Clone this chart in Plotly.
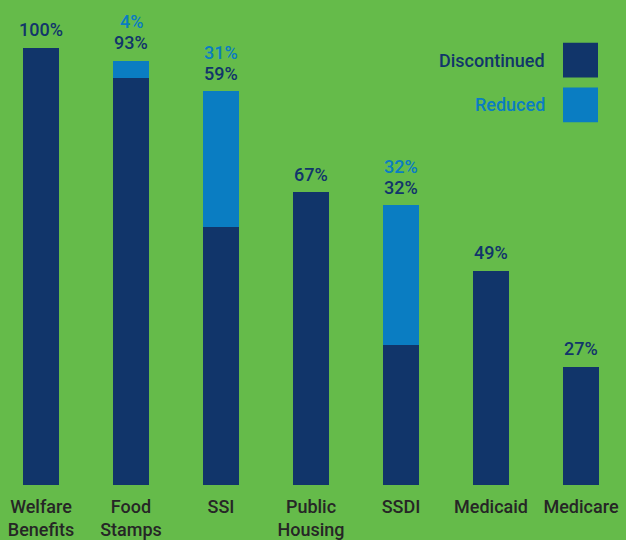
import plotly.graph_objects as go

categories = ["Welfare<br>Benefits", "Food<br>Stamps", "SSI", "Public<br>Housing", "SSDI", "Medicaid", "Medicare"]
discontinued = [100, 93, 59, 67, 32, 49, 27]
reduced = [0, 4, 31, 0, 32, 0, 0]
series_names = ["Discontinued", "Reduced"]

BG = "#65bb4a"
NAVY = "#11356a"
BLUE = "#0a7dc2"
FONT = "Roboto"
FS = 18
W = 500

x = list(range(len(categories)))

fig = go.Figure()
fig.add_bar(x=x, y=discontinued, marker_color=NAVY, marker_line_width=0, width=0.39,
            name=series_names[0], showlegend=False)
fig.add_bar(x=x, y=reduced, marker_color=BLUE, marker_line_width=0, width=0.39,
            name=series_names[1], showlegend=False)

ann = []
for i in x:
    tot = discontinued[i] + reduced[i]
    ann.append(dict(x=i, y=tot, xref="x", yref="y", text=f"{discontinued[i]}%", showarrow=False,
                    yanchor="middle", yshift=18, font=dict(family=FONT, size=FS, color=NAVY, weight=W)))
    if reduced[i] > 0:
        ann.append(dict(x=i, y=tot, xref="x", yref="y", text=f"{reduced[i]}%", showarrow=False,
                        yanchor="middle", yshift=39, font=dict(family=FONT, size=FS, color=BLUE, weight=W)))

legend_colors = [NAVY, BLUE]

fig.update_layout(
    width=626, height=540,
    margin=dict(l=0, r=0, t=0, b=52),
    paper_bgcolor=BG, plot_bgcolor=BG,
    barmode="stack",
    bargap=0,
    xaxis=dict(range=[-41 / 90, -41 / 90 + 626 / 90], tickvals=x, ticktext=categories,
               showgrid=False, zeroline=False, showline=False,
               ticks="outside", ticklen=5, tickcolor="rgba(0,0,0,0)",
               tickfont=dict(family=FONT, size=FS, color="#262626", weight=W)),
    yaxis=dict(range=[0, 488 / 4.4], visible=False, showgrid=False, zeroline=False),
    annotations=ann,
)

H = 488.0
legend_shapes = []
for k, (nm, col) in enumerate(zip(series_names, legend_colors)):
    top = 43 + 45 * k
    legend_shapes.append(dict(type="rect", xref="paper", yref="paper",
                              x0=563 / 626, x1=598 / 626,
                              y0=1 - (top + 35) / H, y1=1 - top / H,
                              fillcolor=col, line_width=0))
    fig.add_annotation(xref="paper", yref="paper", x=547 / 626, y=1 - (top + 17.5) / H,
                       xanchor="right", yanchor="middle", text=nm, showarrow=False,
                       font=dict(family=FONT, size=FS, color=col, weight=W))
fig.update_layout(shapes=legend_shapes)

fig.write_html("out.html", config={"displayModeBar": False},
               post_script="document.body.style.margin='0';document.body.style.overflow='hidden';")
